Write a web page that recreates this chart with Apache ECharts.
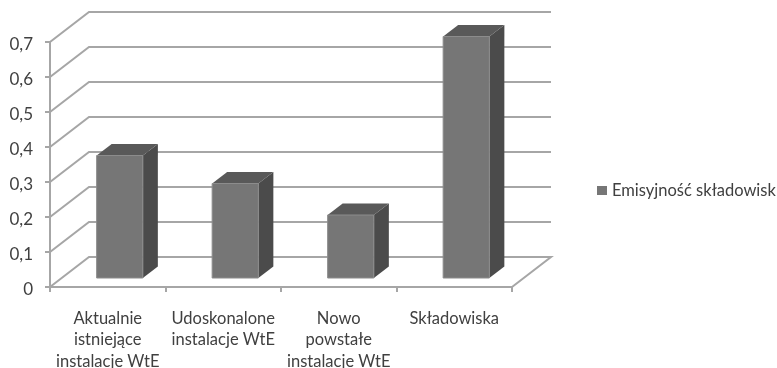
<!DOCTYPE html>
<html>
<head>
<meta charset="utf-8">
<style>html,body{margin:0;padding:0;background:#fff}#c{width:777px;height:368px}</style>
<script src="https://cdn.jsdelivr.net/npm/echarts@6/dist/echarts.min.js"></script>
</head>
<body>
<div id="c"></div>
<script>
const categories = [
  'Aktualnie\nistniejące\ninstalacje WtE',
  'Udoskonalone\ninstalacje WtE',
  'Nowo\npowstałe\ninstalacje WtE',
  'Składowiska'
];
const seriesName = 'Emisyjność składowisk';
const values = [0.35, 0.27, 0.18, 0.69];
const wallTicks = [0, 0.1, 0.2, 0.3, 0.4, 0.5, 0.6, 0.7];

// Pseudo-3D box: floor depth in pixels, and where bars stand on it.
const floorDepth = { dx: 39, dy: -30 };
const barInset = { dx: 12, dy: -9 };
const barDepth = { dx: 15, dy: -11.5 };
const barWidthShare = 0.4;

const gridColor = '#a6a6a6';
const gridWidth = 2;
const textColor = '#404040';
const textFont = 'Lato, "Noto Sans", sans-serif';
const faceColor = '#767676';
const faceEdge = '#8c8c8c';
const topColor = '#595959';
const sideColor = '#4b4b4b';

const chart = echarts.init(document.getElementById('c'), null, { renderer: 'canvas' });

function renderWall(params, api) {
  const v = api.value(0);
  const cs = params.coordSys;
  const y = api.coord([0, v])[1];
  const left = cs.x, right = cs.x + cs.width;
  const points = [[left, y], [left + floorDepth.dx, y + floorDepth.dy], [right + floorDepth.dx, y + floorDepth.dy]];
  if (v === 0) points.push([right, y]);
  return { type: 'polyline', shape: { points }, style: { stroke: gridColor, lineWidth: gridWidth, fill: null } };
}

function renderBar(params, api) {
  const p = api.coord([api.value(0), api.value(1)]);
  const base = api.coord([api.value(0), 0]);
  const w = api.size([1, 0])[0] * barWidthShare;
  const x0 = p[0] - w / 2 + barInset.dx, x1 = x0 + w;
  const top = p[1] + barInset.dy, bottom = base[1] + barInset.dy;
  const dx = barDepth.dx, dy = barDepth.dy;
  return {
    type: 'group',
    children: [
      { type: 'polygon', shape: { points: [[x1, top], [x1 + dx, top + dy], [x1 + dx, bottom + dy], [x1, bottom]] }, style: { fill: sideColor } },
      { type: 'polygon', shape: { points: [[x0, top], [x0 + dx, top + dy], [x1 + dx, top + dy], [x1, top]] }, style: { fill: topColor } },
      { type: 'rect', shape: { x: x0, y: top, width: w, height: bottom - top }, style: { fill: faceColor, stroke: faceEdge, lineWidth: 1 } }
    ]
  };
}

chart.setOption({
  animation: false,
  backgroundColor: '#fff',
  textStyle: { fontFamily: textFont },
  grid: { left: 50, top: 42, width: 462, height: 245, outerBoundsMode: 'none' },
  legend: {
    data: [seriesName],
    left: 597,
    top: 182,
    itemWidth: 10,
    itemHeight: 9,
    itemGap: 5,
    icon: 'rect',
    padding: 0,
    textStyle: { fontSize: 16.5, color: textColor, fontFamily: textFont, padding: [0, 0, 0, 0] }
  },
  xAxis: {
    type: 'category',
    data: categories,
    axisLine: { lineStyle: { color: gridColor, width: gridWidth } },
    axisTick: { show: true, alignWithLabel: false, length: 5, lineStyle: { color: gridColor, width: gridWidth } },
    axisLabel: { color: textColor, fontFamily: textFont, fontSize: 16.5, lineHeight: 21.3, margin: 21, interval: 0, verticalAlign: 'top' }
  },
  yAxis: {
    type: 'value',
    min: 0,
    max: 0.7,
    interval: 0.1,
    splitLine: { show: false },
    axisLine: { show: true, lineStyle: { color: gridColor, width: gridWidth } },
    axisTick: { show: true, length: 5, lineStyle: { color: gridColor, width: gridWidth } },
    axisLabel: {
      color: textColor,
      fontFamily: textFont,
      fontSize: 17,
      margin: 17,
      verticalAlign: 'top',
      lineHeight: 6,
      formatter: v => String(Math.round(v * 10) / 10).replace('.', ',')
    }
  },
  series: [
    {
      type: 'custom',
      name: 'walls',
      silent: true,
      z: 1,
      renderItem: renderWall,
      data: wallTicks.map(v => [v]),
      encode: { y: 0 }
    },
    {
      type: 'custom',
      name: seriesName,
      z: 3,
      itemStyle: { color: faceColor },
      renderItem: renderBar,
      data: values.map((v, i) => [i, v]),
      encode: { x: 0, y: 1 }
    }
  ]
});
</script>
</body>
</html>
